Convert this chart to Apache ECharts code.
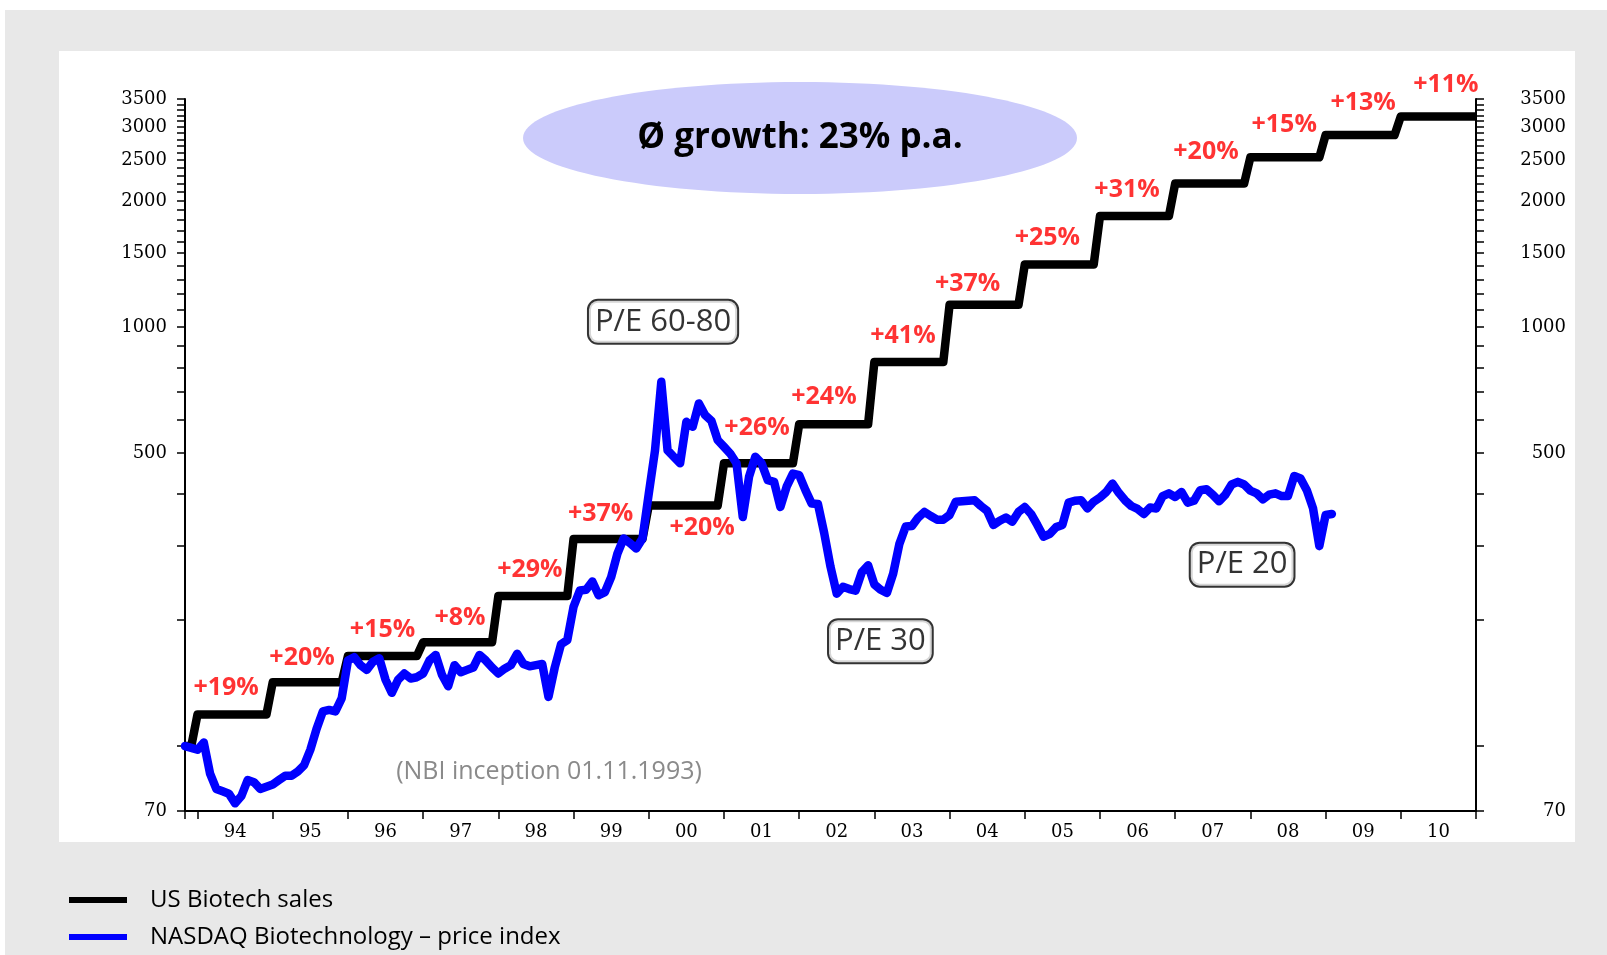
<!DOCTYPE html>
<html>
<head>
<meta charset="utf-8">
<title>US Biotech sales vs NASDAQ Biotechnology</title>
<script src="https://cdn.jsdelivr.net/npm/echarts@6/dist/echarts.min.js"></script>
<style>
html, body { margin: 0; padding: 0; background: #fff; }
#chart { width: 1607px; height: 955px; }
</style>
</head>
<body>
<div id="chart"></div>
<script>
// US biotech sales, indexed 1993 = 100 (one level per year)
const salesYears = [1993, 1994, 1995, 1996, 1997, 1998, 1999, 2000, 2001, 2002,
  2003, 2004, 2005, 2006, 2007, 2008, 2009, 2010]
const salesIndex = [100, 119, 142, 164, 177, 228, 312, 375, 473, 586,
  825, 1130, 1410, 1840, 2200, 2540, 2870, 3180]

// NASDAQ Biotechnology index, monthly from Nov 1993 (rebased to 100)
const nbiStart = [1993, 11]
const nbiMonthly = [
  100, 99, 98, 102, 86, 79, 78, 77, 73, 76, 83, 82,
  79, 80, 81, 83, 85, 85, 87, 90, 98, 110, 121, 122,
  121, 130, 160, 163, 156, 152, 159, 162, 144, 134, 144, 149,
  145, 146, 149, 160, 165, 148, 139, 156, 150, 152, 154, 165,
  160, 154, 149, 153, 156, 166, 157, 155, 156, 157, 131, 154,
  175, 179, 215, 235, 236, 247, 229, 233, 253, 288, 313, 305,
  296, 313, 400, 508, 740, 508, 490, 473, 594, 578, 657, 616,
  597, 537, 518, 499, 473, 352, 439, 490, 473, 431, 427, 372,
  416, 447, 443, 408, 379, 378, 322, 268, 231, 240, 237, 235,
  260, 270, 243, 236, 232, 258, 304, 334, 335, 351, 362, 354,
  347, 347, 356, 383, 384, 385, 386, 374, 364, 337, 345, 351,
  343, 362, 372, 358, 337, 316, 321, 333, 337, 381, 385, 386,
  369, 383, 392, 404, 423, 402, 386, 374, 368, 358, 371, 369,
  395, 401, 393, 404, 381, 385, 408, 410, 398, 384, 398, 421,
  427, 421, 407, 401, 388, 398, 401, 395, 395, 441, 435, 408,
  369, 300, 356, 358
]

// annotations (year, index level)
const growthText = ['+19%', '+20%', '+15%', '+8%', '+29%', '+37%', '+20%', '+26%', '+24%',
  '+41%', '+37%', '+25%', '+31%', '+20%', '+15%', '+13%', '+11%']
const growthAt = [[1994.38, 138], [1995.39, 162], [1996.46, 189], [1997.49, 202], [1998.42, 263],
  [1999.36, 359], [2000.71, 332], [2001.44, 573], [2002.33, 682], [2003.38, 951],
  [2004.24, 1267], [2005.30, 1633], [2006.36, 2129], [2007.41, 2622], [2008.45, 3036],
  [2009.50, 3418], [2010.60, 3781]]
const peText = ['P/E 60-80', 'P/E 30', 'P/E 20']
const peAt = [[2000.19, 1029], [2003.08, 178], [2007.89, 271]]

// axes
const xYears = [1994, 1995, 1996, 1997, 1998, 1999, 2000, 2001, 2002,
  2003, 2004, 2005, 2006, 2007, 2008, 2009, 2010]
const xLabels = ['94', '95', '96', '97', '98', '99', '00', '01', '02',
  '03', '04', '05', '06', '07', '08', '09', '10']
const yTicks = [70, 100, 200, 300, 400, 500, 600, 700, 800, 900, 1000,
  1100, 1200, 1300, 1400, 1500, 1600, 1700, 1800, 1900, 2000, 2100, 2200, 2300, 2400,
  2500, 2600, 2700, 2800, 2900, 3000, 3100, 3200, 3300, 3400, 3500]
const yLabels = [70, 500, 1000, 1500, 2000, 2500, 3000, 3500]
const yMin = 70
const yMax = 3500

const lg = v => Math.log10(v)
const t0 = nbiStart[0] + (nbiStart[1] - 1) / 12
const tEnd = 2011

// step line: flat through each year, moves to next level between Dec and Jan
const salesData = []
salesYears.forEach((y, i) => {
  salesData.push([i === 0 ? t0 : y, lg(salesIndex[i])])
  salesData.push([y + 11 / 12, lg(salesIndex[i])])
})
salesData.push([tEnd, lg(salesIndex[salesIndex.length - 1])])

const nbiData = nbiMonthly.map((v, i) => [t0 + i / 12, lg(v)])

const numFont = 'DejaVu Serif'
const textFont = 'Open Sans'

function yAxis(position, margin) {
  return {
    type: 'value',
    position: position,
    min: lg(yMin),
    max: lg(yMax),
    axisLine: { show: true, lineStyle: { color: '#000', width: 2 } },
    axisTick: {
      show: true,
      customValues: yTicks.map(lg),
      length: 8,
      lineStyle: { color: '#000', width: 1.5 }
    },
    axisLabel: {
      customValues: yLabels.map(lg),
      formatter: v => String(Math.round(Math.pow(10, v))),
      align: 'right',
      margin: margin,
      fontFamily: numFont,
      fontSize: 18,
      color: '#000'
    },
    splitLine: { show: false }
  }
}

function legendRow(name, top) {
  return {
    orient: 'vertical',
    left: 69,
    top: top,
    padding: 0,
    icon: 'rect',
    itemWidth: 58,
    itemHeight: 6,
    data: [name],
    textStyle: { fontFamily: textFont, fontSize: 24, lineHeight: 26, color: '#000', padding: [0, 0, 0, 18] }
  }
}

const chart = echarts.init(document.getElementById('chart'))

chart.setOption({
  backgroundColor: '#ffffff',
  animation: false,
  graphic: [
    { type: 'rect', z: -20, shape: { x: 5, y: 10, width: 1602, height: 945 }, style: { fill: '#e8e8e8' } },
    { type: 'rect', z: -10, shape: { x: 59, y: 51, width: 1516, height: 791 }, style: { fill: '#ffffff' } },
    { type: 'ellipse', z: -5, shape: { cx: 800, cy: 138, rx: 277, ry: 56 }, style: { fill: '#cbcbfb' } },
    {
      type: 'text', x: 800, y: 138,
      style: {
        text: 'Ø growth: 23% p.a.', font: 'bold 35px "Open Sans"', fill: '#000',
        align: 'center', verticalAlign: 'middle'
      }
    },
    {
      type: 'text', x: 549, y: 772,
      style: {
        text: '(NBI inception 01.11.1993)', font: '25px "Open Sans"', fill: '#8a8a8a',
        align: 'center', verticalAlign: 'middle'
      }
    }
  ],
  grid: { left: 185, right: 131, top: 99, bottom: 144, outerBoundsMode: 'none' },
  legend: [
    legendRow('US Biotech sales', 887),
    legendRow('NASDAQ Biotechnology – price index', 924)
  ],
  xAxis: {
    type: 'value',
    min: t0,
    max: tEnd,
    axisLine: { onZero: false, lineStyle: { color: '#000', width: 2 } },
    axisTick: {
      show: true,
      customValues: [t0].concat(xYears, [tEnd]),
      length: 8,
      lineStyle: { color: '#000', width: 1.5 }
    },
    axisLabel: {
      customValues: xYears.map(y => y + 0.5),
      formatter: v => xLabels[Math.floor(v) - xYears[0]],
      margin: 12,
      fontFamily: numFont,
      fontSize: 18,
      color: '#000'
    },
    splitLine: { show: false }
  },
  yAxis: [yAxis('left', 18), yAxis('right', 90)],
  series: [
    {
      name: 'US Biotech sales',
      type: 'line',
      data: salesData,
      showSymbol: false,
      color: '#000000',
      lineStyle: { color: '#000000', width: 8.5, join: 'round' },
      z: 3
    },
    {
      name: 'NASDAQ Biotechnology – price index',
      type: 'line',
      data: nbiData,
      showSymbol: false,
      color: '#0000ff',
      lineStyle: { color: '#0000ff', width: 8.5, join: 'round', cap: 'round' },
      z: 4
    },
    {
      type: 'scatter',
      clip: false,
      silent: true,
      symbolSize: 1,
      itemStyle: { color: 'rgba(0,0,0,0)' },
      data: growthAt.map(p => [p[0], lg(p[1])]),
      label: {
        show: true,
        position: 'inside',
        formatter: p => growthText[p.dataIndex],
        fontFamily: textFont,
        fontWeight: 'bold',
        fontSize: 25,
        color: '#ff0000'
      },
      z: 5
    },
    {
      type: 'scatter',
      clip: false,
      silent: true,
      symbolSize: 1,
      itemStyle: { color: 'rgba(0,0,0,0)' },
      data: peAt.map(p => [p[0], lg(p[1])]),
      label: {
        show: true,
        position: 'inside',
        formatter: p => peText[p.dataIndex],
        fontFamily: textFont,
        fontSize: 31,
        color: '#000',
        backgroundColor: '#ffffff',
        borderColor: '#000',
        borderWidth: 2,
        borderRadius: 9,
        padding: [6, 6, 5, 6]
      },
      z: 6
    }
  ]
})
</script>
</body>
</html>
